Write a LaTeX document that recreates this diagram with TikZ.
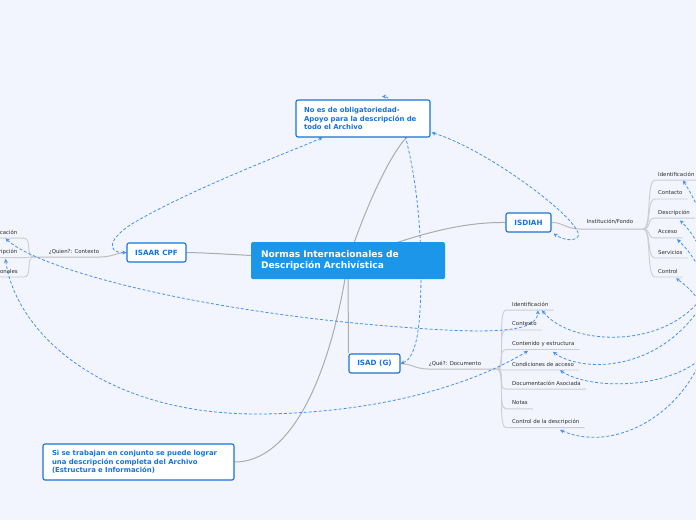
\documentclass[tikz,border=0pt]{standalone}
\usepackage{fontspec}
\setmainfont{DejaVu Sans}
\usetikzlibrary{arrows.meta,calc}
\definecolor{bgc}{RGB}{242,245,253}
\definecolor{mainblue}{RGB}{27,150,232}
\definecolor{nodeblue}{RGB}{24,115,215}
\definecolor{dashblue}{RGB}{70,145,235}
\definecolor{linegray}{RGB}{172,172,172}
\definecolor{subgray}{RGB}{205,205,212}
\definecolor{labelc}{RGB}{45,45,45}
\pgfdeclarelayer{bgl}
\pgfdeclarelayer{lines}
\pgfsetlayers{bgl,lines,main}
\begin{document}
\begin{tikzpicture}[x=1pt,y=-1pt,
  topic/.style={draw=nodeblue, line width=1.1pt, rounded corners=2pt, fill=white, text=nodeblue,
    font=\bfseries\fontsize{6.9}{8.7}\selectfont, inner sep=0pt},
  label7/.style={font=\bfseries\fontsize{7.2}{9}\selectfont},
  centre/.style={fill=mainblue, rounded corners=1.5pt, text=white,
    font=\bfseries\fontsize{9.1}{11}\selectfont, inner sep=0pt},
  mainline/.style={draw=linegray, line width=1pt},
  subline/.style={draw=subgray, line width=0.9pt},
  small/.style={font=\fontsize{5.4}{6.3}\selectfont, text=labelc, inner sep=0pt},
  link/.style={draw=dashblue, line width=0.8pt, dash pattern=on 3pt off 2pt,
    {Stealth[length=4pt,width=4pt]}-{Stealth[length=4pt,width=4pt]}},
]
\begin{pgfonlayer}{bgl}
  \fill[bgc] (0,0) rectangle (696,520);
\end{pgfonlayer}
\useasboundingbox (0,0) rectangle (696,520);

% ---------- nodes ----------
\node[centre, minimum width=194pt, minimum height=37pt, text width=174pt, align=left] (centre) at (348,260.5)
  {Normas Internacionales de\\Descripción Archivística};
\node[topic, minimum width=134pt, minimum height=37pt, text width=118pt, align=left] (top) at (363,118.5)
  {No es de obligatoriedad-\\Apoyo para la descripción de\\todo el Archivo};
\node[topic, label7, minimum width=45pt, minimum height=19pt] (isdiah) at (528.5,222.5) {ISDIAH};
\node[topic, label7, minimum width=59pt, minimum height=19pt] (isaar) at (156.5,252.5) {ISAAR CPF};
\node[topic, label7, minimum width=51pt, minimum height=19pt] (isad) at (374.5,363.5) {ISAD (G)};
\node[topic, minimum width=191pt, minimum height=36pt, text width=173pt, align=left] (bottom) at (138.5,462)
  {Si se trabajan en conjunto se puede lograr\\una descripción completa del Archivo\\(Estructura e Información)};

% branch labels
\node[small] (lbisdiah) at (610,222) {Institución/Fondo};
\node[small] (lbisad) at (455,364) {¿Qué?: Documento};
\node[small] (lbisaar) at (74,252) {¿Quien?: Contexto};

% junctions
\coordinate (ja) at (643,229);
\coordinate (jb) at (497,369);
\coordinate (jc) at (34,257);

% ISDIAH children
\foreach \n/\t/\y in {a1/Identificación/174, a2/Contacto/193, a3/Descripción/212.5, a4/Acceso/232, a5/Servicios/252, a6/Control/271}{
  \node[small, anchor=west] (\n) at (658,\y) {\t};
}
% ISAD children
\foreach \n/\t/\y in {b1/Identificación/304, b2/Contexto/324, b3/Contenido y estructura/344, b4/Condiciones de acceso/364, b5/Documentación Asociada/383, b6/Notas/403, b7/Control de la descripción/422}{
  \node[small, anchor=west] (\n) at (512,\y) {\t};
}
% ISAAR children (cut by the picture edge)
\node[small, anchor=east] (c1) at (17.5,232) {cación};
\node[small, anchor=east] (c2) at (17.5,252) {ripción};
\node[small, anchor=east] (c3) at (18,271) {onales};

% ---------- connectors ----------
\begin{pgfonlayer}{lines}
  % main branches
  \draw[mainline] (centre.center) .. controls (368,200) and (392,152) .. (407,137);
  \draw[mainline] (centre.center) .. controls (330,380) and (290,462) .. (bottom.east);
  \draw[mainline] (centre.center) .. controls (420,232) and (465,222) .. (isdiah.west);
  \draw[mainline] (isaar.east) .. controls (215,253) and (235,255) .. (centre.center);
  \draw[mainline] (348,262) -- (isad.north west);

  % sub branches
  \draw[mainline, draw=linegray!80] (isdiah.east) .. controls (562,222) and (566,229) .. (580,229) -- (ja);
  \draw[mainline, draw=linegray!80] (isad.east) .. controls (412,364) and (416,369) .. (428,369) -- (jb);
  \draw[mainline, draw=linegray!80] (isaar.west) .. controls (115,253) and (112,257) .. (100,257) -- (jc);

  \foreach \n in {a1,a2,a3,a4,a5,a6}{
    \draw[subline] (ja) .. controls +(9,0) and +(-9,0) .. ($(\n.base west)+(-3,4)$) -- ($(\n.base east)+(5,4)$);
  }
  \foreach \n in {b1,b2,b3,b4,b5,b6,b7}{
    \draw[subline] (jb) .. controls +(9,0) and +(-9,0) .. ($(\n.base west)+(-6,4)$) -- ($(\n.base east)+(5,4)$);
  }
  \foreach \n in {c1,c2,c3}{
    \draw[subline] (jc) .. controls +(-9,0) and +(9,0) .. ($(\n.base east)+(6,4)$) -- ($(\n.base west)+(-6,4)$);
  }

  % dashed relations
  \draw[link] (isaar.west) .. controls (106,253) and (108,238) .. (135,222)
     .. controls (200,185) and (290,152) .. ($(top.south west)+(27,0)$);
  \draw[link] (isad.east) .. controls (418,358) and (421,320) .. (421,270)
     .. controls (421,180) and (400,97) .. ($(top.north)+(19,-3)$);
  \draw[link] ($(top.south east)+(1,-5)$) .. controls (490,150) and (592,228) .. (577,238)
     .. controls (570,242) and (560,238) .. ($(isdiah.south east)+(2,1)$);
  \draw[link] ($(c1.south east)+(-12,4)$) .. controls (40,270) and (200,312) .. (400,327)
     .. controls (490,334) and (537,333) .. ($(b1.south west)+(26,4)$);
  \draw[link] ($(c2.south east)+(-12,4)$) .. controls (15,330) and (100,415) .. (260,414)
     .. controls (390,413) and (480,380) .. ($(b3.south west)+(16,4)$);
  \draw[link] ($(b1.south west)+(30,4)$) .. controls (570,345) and (660,350) .. (700,300)
     .. controls (720,260) and (705,215) .. ($(a1.south west)+(25,4)$);
  \draw[link] ($(b3.south west)+(41,5)$) .. controls (580,372) and (660,375) .. (705,300)
     .. controls (712,270) and (700,240) .. ($(a3.south west)+(22,5)$);
  \draw[link] ($(b4.south west)+(48,4)$) .. controls (590,390) and (670,390) .. (705,355)
     .. controls (725,320) and (705,265) .. ($(a4.south west)+(19,5)$);
  \draw[link] ($(b7.south west)+(48,5)$) .. controls (610,452) and (680,420) .. (705,350)
     .. controls (715,320) and (700,295) .. ($(a6.south west)+(18,5)$);
\end{pgfonlayer}
\end{tikzpicture}
\end{document}
